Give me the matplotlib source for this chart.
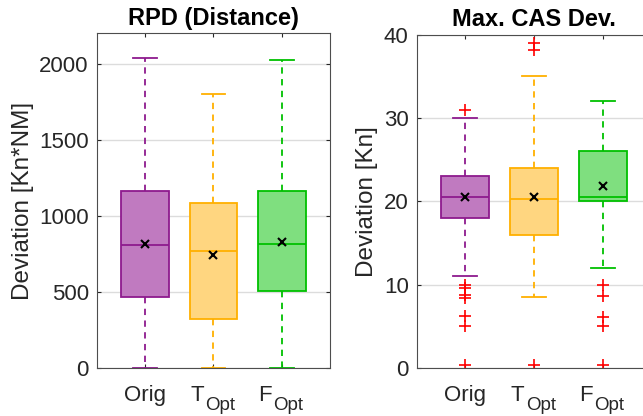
import matplotlib
matplotlib.use('Agg')
import matplotlib.pyplot as plt

plt.rcParams['font.family'] = ['Liberation Sans', 'DejaVu Sans']

# tick labels: main part and subscript part
group_main = ['Orig', 'T', 'F']
group_sub = ['', 'Opt', 'Opt']
edge_colors = ['#8e1a8e', '#ffb000', '#00c000']
fill_colors = ['#c07ac0', '#ffd680', '#7fdf7f']

# RPD (distance) box statistics
rpd_low = [0, 0, 0]
rpd_q1 = [468, 321, 509]
rpd_med = [807, 769, 813]
rpd_q3 = [1163, 1082, 1165]
rpd_high = [2035, 1801, 2024]
rpd_mean = [817, 741, 828]
rpd_fliers = [[], [], []]

# max CAS deviation box statistics
cas_low = [11, 8.5, 12]
cas_q1 = [18, 16, 20]
cas_med = [20.5, 20.3, 20.5]
cas_q3 = [23, 24, 26]
cas_high = [30, 35, 32]
cas_mean = [20.5, 20.5, 21.8]
cas_fliers = [[31, 10, 9.6, 8.8, 8.4, 6.2, 5.0, 0.3],
              [39, 38.2, 0.3],
              [10, 8.6, 6.1, 5.0, 0.3]]


def make_stats(low, q1, med, q3, high, mean, fliers):
    return [dict(whislo=low[i], q1=q1[i], med=med[i], q3=q3[i], whishi=high[i],
                 mean=mean[i], fliers=fliers[i]) for i in range(len(low))]


def draw(ax, stats, title, ylabel, ylim, yticks):
    pos = [1, 2, 3]
    for i, st in enumerate(stats):
        c = edge_colors[i]
        ax.bxp([st], positions=[pos[i]], widths=0.7, patch_artist=True,
               showmeans=True,
               boxprops=dict(facecolor=fill_colors[i], edgecolor=c, linewidth=1.3),
               medianprops=dict(color=c, linewidth=1.3),
               whiskerprops=dict(color=c, linestyle=(0, (3.5, 3)), linewidth=1.3),
               capprops=dict(color=c, linewidth=1.3),
               capwidths=0.34,
               meanprops=dict(marker='x', markeredgecolor='black', markersize=6,
                              markeredgewidth=1.5),
               flierprops=dict(marker='+', markeredgecolor='red', markersize=8,
                               markeredgewidth=1.2, linestyle='none'))
    ax.set_xlim(0.3, 3.7)
    ax.set_ylim(*ylim)
    ax.set_yticks(yticks)
    ax.set_xticks(pos)
    ax.set_xticklabels(['', '', ''])
    ax.yaxis.grid(True, color='#dcdcdc', linewidth=1)
    ax.set_axisbelow(True)
    ax.tick_params(direction='in', top=True, right=True, labelsize=16,
                   colors='#262626', length=3, pad=6)
    for s in ax.spines.values():
        s.set_color('#4d4d4d')
    ax.set_title(title, fontsize=17, fontweight='bold', pad=6)
    ax.set_ylabel(ylabel, fontsize=17.5, color='#262626')

    # category labels with large subscripts
    for p, main, sub in zip(pos, group_main, group_sub):
        if sub:
            ax.annotate(main, (p, 0), xycoords=('data', 'axes fraction'),
                        xytext=(-7, -23.5), textcoords='offset points',
                        ha='right', va='baseline', fontsize=16, color='#262626')
            ax.annotate(sub, (p, 0), xycoords=('data', 'axes fraction'),
                        xytext=(-6, -30), textcoords='offset points',
                        ha='left', va='baseline', fontsize=13.5, color='#262626')
        else:
            ax.annotate(main, (p, 0), xycoords=('data', 'axes fraction'),
                        xytext=(0, -23.5), textcoords='offset points',
                        ha='center', va='baseline', fontsize=16, color='#262626')


fig = plt.figure(figsize=(6.43, 4.16), dpi=100)
ax1 = fig.add_axes([0.151, 0.1154, 0.362, 0.805])
ax2 = fig.add_axes([0.6485, 0.1154, 0.364, 0.801])

draw(ax1, make_stats(rpd_low, rpd_q1, rpd_med, rpd_q3, rpd_high, rpd_mean, rpd_fliers),
     'RPD (Distance)', 'Deviation [Kn*NM]', (0, 2200), [0, 500, 1000, 1500, 2000])
draw(ax2, make_stats(cas_low, cas_q1, cas_med, cas_q3, cas_high, cas_mean, cas_fliers),
     'Max. CAS Dev.', 'Deviation [Kn]', (0, 40), [0, 10, 20, 30, 40])

fig.savefig('out.png', dpi=100)
